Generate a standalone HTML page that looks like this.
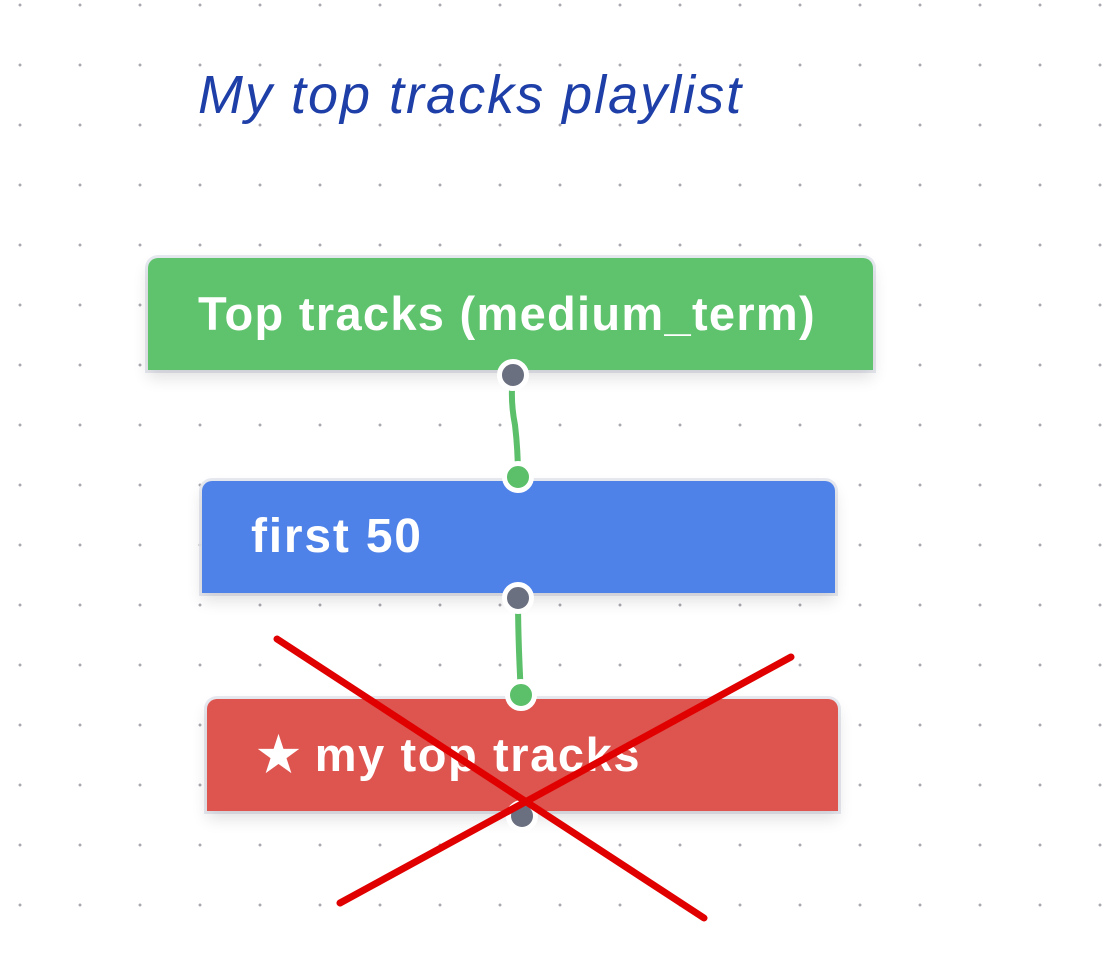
<!DOCTYPE html>
<html><head><style>
html,body{margin:0;padding:0;width:1120px;height:954px;overflow:hidden;background:#fff;}
body{position:relative;font-family:"Liberation Sans",sans-serif;
background-image:radial-gradient(circle,#a8a8b0 1.3px,transparent 1.6px);background-size:60px 60px;background-position:-10px -25px;}
.t{position:absolute;left:198px;top:64px;font-size:54px;letter-spacing:2px;font-style:italic;color:#1e3fa8;white-space:nowrap;}
.n{position:absolute;border-radius:10px 10px 0 0;color:#fff;font-weight:bold;font-size:47px;letter-spacing:1.3px;white-space:nowrap;box-shadow:0 8px 16px rgba(0,0,0,0.12),0 0 0 3px rgba(230,232,240,0.9);line-height:112px;box-sizing:border-box;}
.d{position:absolute;width:22px;height:22px;border-radius:50%;border:5px solid #fff;margin:-16px 0 0 -16px;}
</style></head><body>
<div class="t">My top tracks playlist</div>
<svg style="position:absolute;left:0;top:0" width="1120" height="954">
<path d="M513 375 Q510 400 515 425 Q518 450 518 477" stroke="#5cbf6a" stroke-width="6" fill="none"/>
<path d="M518 598 Q518 640 521 695" stroke="#5cbf6a" stroke-width="6" fill="none"/>
</svg>
<div class="n" style="left:148px;top:258px;width:725px;height:112px;background:#5fc36d;padding-left:50px">Top tracks (medium_term)</div>
<div class="n" style="left:202px;top:481px;width:633px;height:112px;background:#4f82e8;padding-left:49px;font-size:48px;letter-spacing:1.8px">first 50</div>
<div class="n" style="left:207px;top:699px;width:631px;height:112px;background:#de544f;padding-left:50px;letter-spacing:1.6px"><span style="font-size:48px;letter-spacing:0">★</span> my top tracks</div>
<div class="d" style="left:513px;top:375px;background:#6b7080"></div>
<div class="d" style="left:518px;top:477px;background:#5cbf6a"></div>
<div class="d" style="left:518px;top:598px;background:#6b7080"></div>
<div class="d" style="left:521px;top:695px;background:#5cbf6a"></div>
<div class="d" style="left:522px;top:816px;background:#6b7080"></div>
<svg style="position:absolute;left:0;top:0" width="1120" height="954">
<line x1="277" y1="639" x2="704" y2="918" stroke="#e00000" stroke-width="7" stroke-linecap="round"/>
<line x1="791" y1="657" x2="340" y2="903" stroke="#e00000" stroke-width="7" stroke-linecap="round"/>
</svg>
</body></html>
